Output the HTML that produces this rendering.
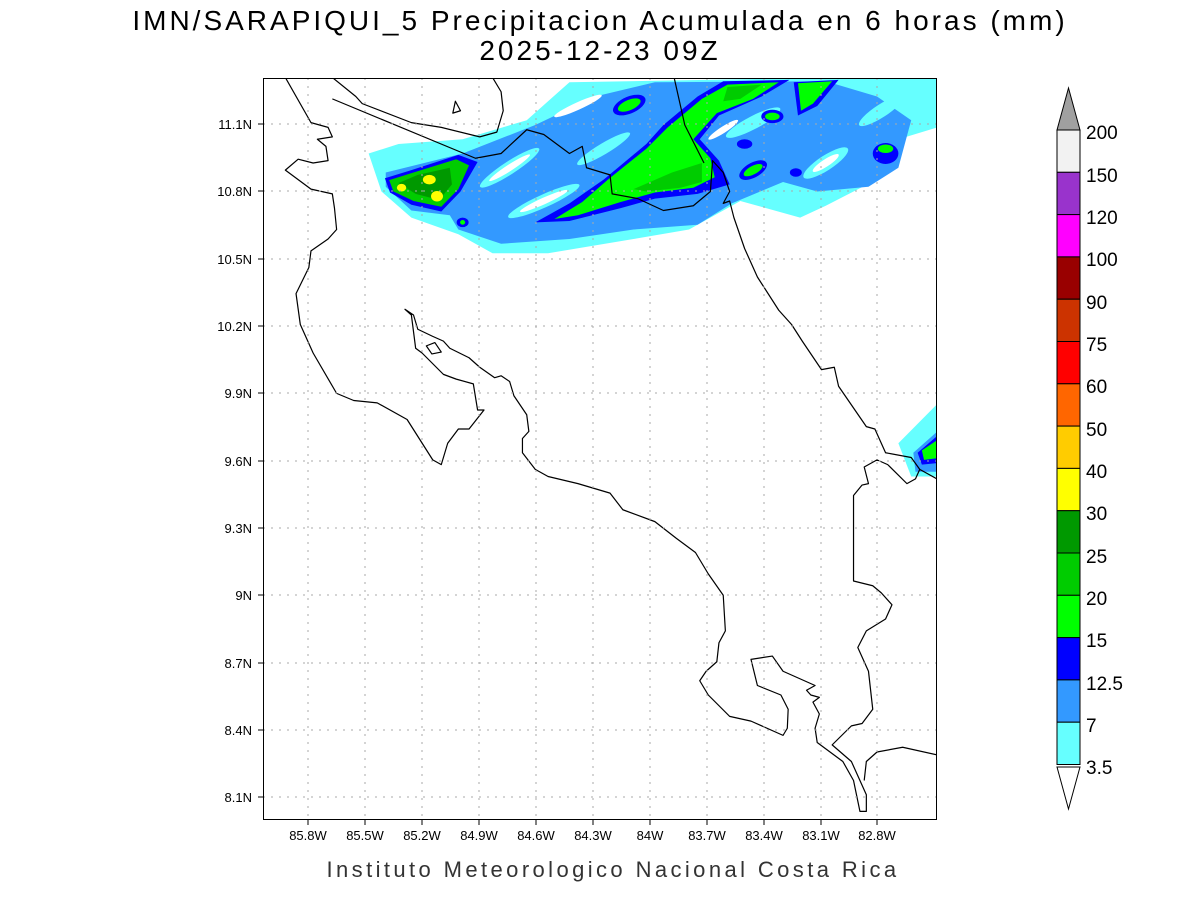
<!DOCTYPE html>
<html><head><meta charset="utf-8"><style>
html,body{margin:0;padding:0;background:#fff;}
svg{display:block;font-family:"Liberation Sans",sans-serif;}
</style></head><body>
<svg width="1200" height="900" viewBox="0 0 1200 900" xmlns="http://www.w3.org/2000/svg">
<rect width="1200" height="900" fill="#fff"/>
<text x="600" y="30" font-size="28" text-anchor="middle" fill="#000" letter-spacing="3">IMN/SARAPIQUI_5 Precipitacion Acumulada en 6 horas (mm)</text>
<text x="600" y="60" font-size="28" text-anchor="middle" fill="#000" letter-spacing="3">2025-12-23 09Z</text>
<defs><clipPath id="c"><rect x="263" y="78" width="674" height="742"/></clipPath></defs>
<g clip-path="url(#c)">
<g transform="matrix(0.4272 0 0 0.475 270.4 77.5)">
<path fill="#66ffff" d="M230,160 L300,140 450,130 600,90 700,10 1330,0 1580,0 1580,100 1470,130 1430,210 1300,270 1240,295 1100,260 980,320 850,340 650,370 520,370 440,330 330,295 260,240Z"/>
<path fill="#3399ff" d="M270,200 L450,160 620,100 760,40 900,10 1300,8 1420,40 1500,90 1470,190 1400,230 1280,240 1200,220 1080,265 1000,310 850,320 700,340 540,350 440,320 420,290 330,280 270,230Z"/>
<g fill="#66ffff">
<ellipse cx="560" cy="190" rx="80" ry="14" transform="rotate(-30 560 190)"/>
<ellipse cx="780" cy="150" rx="70" ry="12" transform="rotate(-28 780 150)"/>
<ellipse cx="640" cy="260" rx="90" ry="14" transform="rotate(-22 640 260)"/>
<ellipse cx="1130" cy="95" rx="70" ry="14" transform="rotate(-25 1130 95)"/>
<ellipse cx="1300" cy="180" rx="60" ry="16" transform="rotate(-30 1300 180)"/>
<ellipse cx="1430" cy="70" rx="60" ry="14" transform="rotate(-30 1430 70)"/>
</g>
<g fill="#fff">
<ellipse cx="560" cy="190" rx="55" ry="7" transform="rotate(-30 560 190)"/>
<ellipse cx="640" cy="260" rx="60" ry="7" transform="rotate(-22 640 260)"/>
<ellipse cx="1060" cy="110" rx="40" ry="7" transform="rotate(-30 1060 110)"/>
<ellipse cx="1300" cy="180" rx="35" ry="8" transform="rotate(-30 1300 180)"/>
<ellipse cx="720" cy="60" rx="60" ry="8" transform="rotate(-22 720 60)"/>
</g>
<path fill="#0000ff" d="M268,212 L330,195 440,163 485,178 445,240 400,282 330,268 280,242Z"/>
<path fill="#00cc00" d="M278,216 L335,200 435,172 465,185 440,235 400,272 335,260 288,240Z"/>
<path fill="#009900" d="M300,222 L345,205 420,190 425,225 395,258 340,245Z"/>
<g fill="#ffff00"><ellipse cx="307" cy="232" rx="11" ry="8"/><ellipse cx="372" cy="215" rx="15" ry="10"/><ellipse cx="390" cy="250" rx="14" ry="11"/></g>
<path fill="#0000ff" d="M620,305 L700,265 780,215 880,140 920,100 1000,40 1060,8 1215,5 1150,40 1050,80 1005,130 1050,175 1075,225 1000,245 900,255 820,275 700,302Z"/>
<path fill="#00ff00" d="M665,298 L730,262 790,215 880,150 930,105 1010,45 1070,15 1190,10 1130,45 1045,75 990,130 1030,170 1040,210 990,232 900,242 820,262 720,290Z"/>
<path fill="#00cc00" d="M850,235 L940,200 1010,180 1010,220 960,232 880,240Z"/>
<path fill="#00cc00" d="M1070,20 L1150,15 1100,45 1060,50Z"/>
<path fill="#0000ff" d="M1225,10 L1330,5 1280,60 1235,80Z"/><path fill="#00ff00" d="M1235,12 L1315,8 1270,55 1242,70Z"/>
<g fill="#0000ff"><ellipse cx="840" cy="58" rx="40" ry="18" transform="rotate(-20 840 58)"/><ellipse cx="1175" cy="82" rx="26" ry="14"/><ellipse cx="1110" cy="140" rx="18" ry="10"/><ellipse cx="1130" cy="195" rx="35" ry="16" transform="rotate(-25 1130 195)"/><ellipse cx="1440" cy="160" rx="30" ry="22"/><ellipse cx="1230" cy="200" rx="14" ry="9"/><ellipse cx="450" cy="305" rx="14" ry="10"/></g>
<g fill="#00ff00"><ellipse cx="840" cy="58" rx="28" ry="11" transform="rotate(-20 840 58)"/><ellipse cx="1175" cy="82" rx="17" ry="8"/><ellipse cx="1130" cy="195" rx="24" ry="9" transform="rotate(-25 1130 195)"/><ellipse cx="1440" cy="150" rx="18" ry="9"/><ellipse cx="450" cy="305" rx="6" ry="5"/></g>
<path fill="#66ffff" d="M1470,770 L1580,670 1580,840 1500,840Z"/>
<path fill="#3399ff" d="M1505,790 L1580,730 1580,830 1510,830Z"/>
<path fill="#0000ff" d="M1515,790 L1580,740 1580,810 1525,815Z"/>
<path fill="#00ff00" d="M1525,785 L1575,755 1575,800 1530,805Z"/>
<g fill="none" stroke="#000" stroke-width="1.2" stroke-linejoin="round">
<path vector-effect="non-scaling-stroke" d="M35,0 L95,95 135,105 145,125 110,130 130,145 135,175 100,180 65,172 35,195 95,235 145,245 150,275 155,320 135,340 95,365 90,400 60,455 70,520 100,580 155,665 195,680 250,685 320,720 380,805 400,815 415,770 440,740 465,740 500,700 485,700 475,645 435,635 405,625 355,580 340,570 330,500 315,488 335,500 345,530 380,545 405,555 420,570 465,590 490,610 525,632 540,628 560,640 570,670 600,710 605,745 590,760 590,790 620,825 650,840 720,855 795,875 825,910 900,935 950,970 995,1000 1025,1045 1060,1090 1065,1165 1050,1190 1045,1230 1020,1250 1005,1270 1025,1300 1075,1345 1125,1355 1200,1385 1210,1370 1212,1330 1195,1300 1140,1280 1125,1225 1175,1218 1200,1250 1250,1270 1275,1280 1255,1290 1265,1300 1285,1305 1270,1315 1285,1340 1275,1370 1280,1400 1340,1440 1365,1480 1380,1545 1395,1545 1395,1510 1360,1440 1315,1405 1360,1365 1385,1360 1410,1330 1400,1250 1375,1200 1395,1165 1440,1140 1455,1110 1430,1085 1410,1070 1365,1060 1365,880 1385,858 1400,855 1390,820 1420,805 1445,815 1490,855 1510,845 1520,825 1580,855"/>
<path vector-effect="non-scaling-stroke" d="M1520,825 L1500,800 1440,790 1415,740 1395,735 1330,650 1320,610 1290,615 1245,555 1220,520 1190,490 1140,420 1110,360 1085,295 1075,260 1060,265 1075,240 1060,200 1035,175 1030,240 990,270 920,280 860,255 800,245 795,205 740,190 730,145 700,160 640,120 600,110 540,160 480,170 145,45"/>
<path vector-effect="non-scaling-stroke" d="M145,0 L200,40 215,55 330,95 400,105 490,125 530,115 545,70 540,30 520,0"/>
<path vector-effect="non-scaling-stroke" d="M945,0 L970,100 1015,180"/>
<path vector-effect="non-scaling-stroke" d="M1580,1430 L1480,1410 1420,1420 1395,1440 1390,1480"/>
<path vector-effect="non-scaling-stroke" d="M365,565 L385,558 400,578 378,582Z"/>
<path vector-effect="non-scaling-stroke" d="M433,50 L445,70 427,75Z"/>
</g>
</g>
</g>
<g stroke="#aaa" stroke-width="1" stroke-dasharray="2,6">
<path d="M263,124H937M263,191H937M263,259H937M263,326H937M263,393H937M263,461H937M263,528H937M263,595H937M263,663H937M263,730H937M263,797H937"/>
<path d="M308,78V820M365,78V820M422,78V820M479,78V820M536,78V820M593,78V820M650,78V820M707,78V820M764,78V820M821,78V820M877,78V820"/>
</g>
<rect x="263.5" y="78.5" width="673" height="741" fill="none" stroke="#000" stroke-width="1"/>
<g stroke="#000"><path d="M258,124H263M258,191H263M258,259H263M258,326H263M258,393H263M258,461H263M258,528H263M258,595H263M258,663H263M258,730H263M258,797H263"/>
<path d="M308,820V825M365,820V825M422,820V825M479,820V825M536,820V825M593,820V825M650,820V825M707,820V825M764,820V825M821,820V825M877,820V825"/></g>
<g font-size="13" text-anchor="end" fill="#000">
<text x="252" y="129">11.1N</text><text x="252" y="196">10.8N</text><text x="252" y="264">10.5N</text><text x="252" y="331">10.2N</text><text x="252" y="398">9.9N</text><text x="252" y="466">9.6N</text><text x="252" y="533">9.3N</text><text x="252" y="600">9N</text><text x="252" y="668">8.7N</text><text x="252" y="735">8.4N</text><text x="252" y="802">8.1N</text>
</g>
<g font-size="13" text-anchor="middle" fill="#000">
<text x="308" y="840">85.8W</text><text x="365" y="840">85.5W</text><text x="422" y="840">85.2W</text><text x="479" y="840">84.9W</text><text x="536" y="840">84.6W</text><text x="593" y="840">84.3W</text><text x="650" y="840">84W</text><text x="707" y="840">83.7W</text><text x="764" y="840">83.4W</text><text x="821" y="840">83.1W</text><text x="877" y="840">82.8W</text>
</g>
<text x="613" y="877" font-size="22" text-anchor="middle" fill="#333" letter-spacing="3.4">Instituto Meteorologico Nacional Costa Rica</text>
<g stroke="#000" stroke-width="1">
<polygon points="1057,130 1080,130 1068.5,88" fill="#a0a0a0"/>
<rect x="1057" y="130" width="23" height="42.3" fill="#f2f2f2"/>
<rect x="1057" y="172.3" width="23" height="42.3" fill="#9933cc"/>
<rect x="1057" y="214.6" width="23" height="42.3" fill="#ff00ff"/>
<rect x="1057" y="256.9" width="23" height="42.3" fill="#990000"/>
<rect x="1057" y="299.2" width="23" height="42.3" fill="#cc3300"/>
<rect x="1057" y="341.5" width="23" height="42.3" fill="#ff0000"/>
<rect x="1057" y="383.8" width="23" height="42.3" fill="#ff6600"/>
<rect x="1057" y="426.1" width="23" height="42.3" fill="#ffcc00"/>
<rect x="1057" y="468.4" width="23" height="42.3" fill="#ffff00"/>
<rect x="1057" y="510.7" width="23" height="42.3" fill="#009900"/>
<rect x="1057" y="553" width="23" height="42.3" fill="#00cc00"/>
<rect x="1057" y="595.3" width="23" height="42.3" fill="#00ff00"/>
<rect x="1057" y="637.6" width="23" height="42.3" fill="#0000ff"/>
<rect x="1057" y="679.9" width="23" height="42.3" fill="#3399ff"/>
<rect x="1057" y="722.2" width="23" height="42.3" fill="#66ffff"/>
<polygon points="1057,767 1080,767 1068.5,809" fill="#fff"/>
</g>
<g font-size="19" fill="#000">
<text x="1086" y="139">200</text><text x="1086" y="182">150</text><text x="1086" y="224">120</text><text x="1086" y="266">100</text><text x="1086" y="309">90</text><text x="1086" y="351">75</text><text x="1086" y="393">60</text><text x="1086" y="436">50</text><text x="1086" y="478">40</text><text x="1086" y="520">30</text><text x="1086" y="563">25</text><text x="1086" y="605">20</text><text x="1086" y="647">15</text><text x="1086" y="690">12.5</text><text x="1086" y="732">7</text><text x="1086" y="774">3.5</text>
</g>
</svg>
</body></html>
